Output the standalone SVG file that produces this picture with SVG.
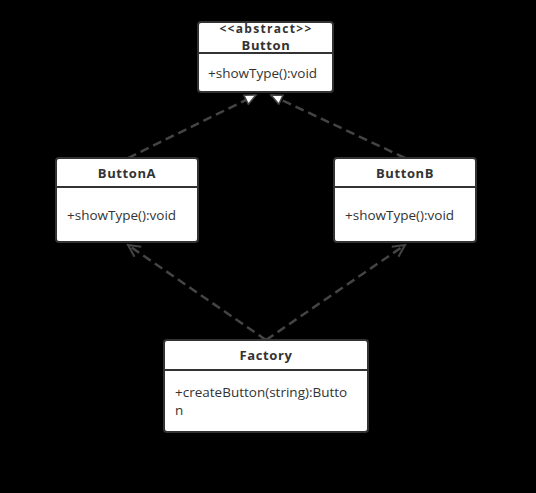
<svg xmlns="http://www.w3.org/2000/svg" width="536" height="493" viewBox="0 0 536 493">
<defs>
<style>
.box{fill:#fff;stroke:#333;stroke-width:2}
.div{stroke:#333;stroke-width:2}
.t{font-family:"Open Sans","DejaVu Sans",sans-serif;font-size:13.5px;fill:#333}
.b{font-weight:bold;text-anchor:middle;font-size:13px;letter-spacing:0.6px}
.c{fill:none;stroke:#444;stroke-width:2.5;stroke-dasharray:9,5}
</style>
<marker id="tri" markerWidth="14" markerHeight="12" refX="12" refY="6" orient="auto" markerUnits="userSpaceOnUse">
<path d="M1,1 L12,6 L1,11 Z" fill="#fff" stroke="#444" stroke-width="1.5"/>
</marker>
<marker id="open" markerWidth="16" markerHeight="14" refX="13" refY="7" orient="auto" markerUnits="userSpaceOnUse">
<path d="M1,1 L13,7 L1,13" fill="none" stroke="#444" stroke-width="2"/>
</marker>
</defs>
<rect width="536" height="493" fill="#000"/>
<g id="connectors">
<path class="c" d="M128,158 L256,95" marker-end="url(#tri)"/>
<path class="c" d="M405,158 L271,95" marker-end="url(#tri)"/>
<path class="c" d="M266,340 L128,245" marker-end="url(#open)"/>
<path class="c" d="M266,340 L405,245" marker-end="url(#open)"/>
</g>
<g id="Button">
<rect class="box" x="198" y="22" width="135" height="70" rx="3"/>
<line class="div" x1="198" y1="53" x2="333" y2="53"/>
<text class="t b" x="266" y="33" style="font-size:12px;letter-spacing:1.3px">&lt;&lt;abstract&gt;&gt;</text>
<text class="t b" x="266" y="50">Button</text>
<text class="t" x="208" y="78">+showType():void</text>
</g>
<g id="ButtonA">
<rect class="box" x="56" y="158" width="142" height="84" rx="3"/>
<line class="div" x1="56" y1="187" x2="198" y2="187"/>
<text class="t b" x="127" y="178">ButtonA</text>
<text class="t" x="67" y="220">+showType():void</text>
</g>
<g id="ButtonB">
<rect class="box" x="334" y="158" width="142" height="84" rx="3"/>
<line class="div" x1="334" y1="187" x2="476" y2="187"/>
<text class="t b" x="405" y="178">ButtonB</text>
<text class="t" x="345" y="220">+showType():void</text>
</g>
<g id="Factory">
<rect class="box" x="164" y="340" width="204" height="92" rx="3"/>
<line class="div" x1="164" y1="370" x2="368" y2="370"/>
<text class="t b" x="266" y="360">Factory</text>
<text class="t" x="175" y="397">+createButton(string):Butto</text>
<text class="t" x="175" y="415">n</text>
</g>
</svg>
